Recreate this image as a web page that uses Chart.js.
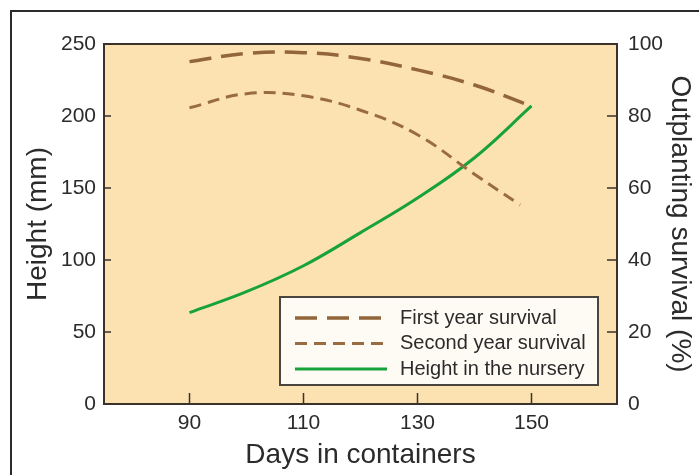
<!DOCTYPE html>
<html>
<head>
<meta charset="utf-8">
<script src="https://cdn.jsdelivr.net/npm/chart.js@4.4.1/dist/chart.umd.min.js"></script>
<style>
  html, body { margin: 0; padding: 0; background: #fff; }
  #wrap { position: relative; width: 699px; height: 475px; overflow: hidden; }
  #frame { position: absolute; left: 10px; top: 10px; width: 800px; height: 600px;
           border-left: 2px solid #2b2b2b; border-top: 2px solid #2b2b2b; }
  canvas { position: absolute; left: 0; top: 0; }
</style>
</head>
<body>
<div id="wrap">
  <div id="frame"></div>
  <canvas id="chart" width="699" height="475"></canvas>
</div>
<script>
// values
const firstDays = [90, 100, 110, 120, 130, 140, 150];
const firstYear = [95.1, 97.4, 97.6, 96.0, 92.8, 88.6, 82.7];      // %
const secondDays = [90, 100, 110, 120, 130, 140, 148];
const secondYear = [82.3, 86.2, 85.6, 81.6, 74.8, 63.8, 55.3];     // %
const heightDays = [90, 100, 110, 120, 130, 140, 150];
const heightMm = [63.5, 78, 96, 119, 143, 171, 207];               // mm

const xTicks = [90, 110, 130, 150];
const heightTicks = [0, 50, 100, 150, 200, 250];
const survivalTicks = [0, 20, 40, 60, 80, 100];

const FONT = "'Liberation Sans', Arial, Helvetica, sans-serif";
const TEXT = '#2b2b2b';

const toPoints = (xs, ys) => xs.map((x, i) => ({ x, y: ys[i] }));

// plot background, frame, inside ticks and the boxed legend
const plotDecor = {
  id: 'plotDecor',
  beforeDraw(chart) {
    const { ctx, chartArea: a } = chart;
    ctx.save();
    ctx.fillStyle = '#fce2b1';
    ctx.fillRect(a.left, a.top, a.right - a.left, a.bottom - a.top);
    ctx.restore();
  },
  afterDatasetsDraw(chart) {
    const { ctx, chartArea: a, scales } = chart;
    ctx.save();
    ctx.strokeStyle = '#3a322b';
    ctx.lineWidth = 2;
    ctx.strokeRect(a.left, a.top, a.right - a.left, a.bottom - a.top);

    ctx.lineWidth = 1.5;
    ctx.beginPath();
    xTicks.forEach(v => {
      const x = scales.x.getPixelForValue(v);
      ctx.moveTo(x, a.bottom);
      ctx.lineTo(x, a.bottom - 11);
    });
    survivalTicks.slice(1, -1).forEach(v => {
      const y = scales.y1.getPixelForValue(v);
      ctx.moveTo(a.right, y);
      ctx.lineTo(a.right - 10, y);
    });
    heightTicks.slice(1, -1).forEach(v => {
      const y = scales.y.getPixelForValue(v);
      ctx.moveTo(a.left, y);
      ctx.lineTo(a.left + 7, y);
    });
    ctx.stroke();

    // legend box
    const w = 318, h = 88;
    const left = a.right - 19 - w;
    const top = a.bottom - 19 - h;
    ctx.fillStyle = '#fefbf4';
    ctx.fillRect(left, top, w, h);
    ctx.strokeStyle = '#4a4540';
    ctx.lineWidth = 2;
    ctx.strokeRect(left, top, w, h);

    const rows = [21, 46.5, 72];
    ctx.font = '20px ' + FONT;
    ctx.textBaseline = 'middle';
    ctx.textAlign = 'left';
    chart.data.datasets.forEach((ds, i) => {
      const y = top + rows[i];
      ctx.strokeStyle = ds.borderColor;
      ctx.lineWidth = ds.borderWidth;
      ctx.setLineDash(ds.borderDash || []);
      ctx.beginPath();
      ctx.moveTo(left + 15, y);
      ctx.lineTo(left + 107, y);
      ctx.stroke();
      ctx.setLineDash([]);
      ctx.fillStyle = TEXT;
      ctx.fillText(ds.label, left + 120, y);
    });
    ctx.restore();
  }
};

new Chart(document.getElementById('chart'), {
  type: 'line',
  data: {
    datasets: [
      {
        label: 'First year survival',
        data: toPoints(firstDays, firstYear),
        yAxisID: 'y1',
        borderColor: '#93653a',
        borderWidth: 3.5,
        borderDash: [22, 10],
        tension: 0.4
      },
      {
        label: 'Second year survival',
        data: toPoints(secondDays, secondYear),
        yAxisID: 'y1',
        borderColor: '#996b40',
        borderWidth: 3,
        borderDash: [12, 7],
        tension: 0.4
      },
      {
        label: 'Height in the nursery',
        data: toPoints(heightDays, heightMm),
        yAxisID: 'y',
        borderColor: '#17a23a',
        borderWidth: 3,
        tension: 0.4
      }
    ]
  },
  options: {
    responsive: false,
    animation: false,
    devicePixelRatio: 1,
    layout: { padding: { top: 44, left: 0, right: 0, bottom: 0 } },
    elements: { point: { radius: 0 } },
    plugins: {
      legend: { display: false },
      tooltip: { enabled: false }
    },
    scales: {
      x: {
        type: 'linear',
        min: 75,
        max: 165,
        afterBuildTicks: s => { s.ticks = xTicks.map(v => ({ value: v })); },
        afterFit: s => { s.height = 71; },
        grid: { display: false, drawTicks: false },
        border: { display: false },
        ticks: { font: { family: FONT, size: 21 }, color: TEXT, padding: 7 },
        title: {
          display: true,
          text: 'Days in containers',
          font: { family: FONT, size: 28 },
          color: TEXT,
          padding: { top: 0, bottom: 3 }
        }
      },
      y: {
        position: 'left',
        min: 0,
        max: 250,
        afterBuildTicks: s => { s.ticks = heightTicks.map(v => ({ value: v })); },
        afterFit: s => { s.width = 104; },
        grid: { display: false, drawTicks: false },
        border: { display: false },
        ticks: { font: { family: FONT, size: 21 }, color: TEXT, padding: 8 },
        title: {
          display: true,
          text: 'Height (mm)',
          font: { family: FONT, size: 28 },
          color: TEXT,
          padding: { top: 21, bottom: 0 }
        }
      },
      y1: {
        position: 'right',
        min: 0,
        max: 100,
        afterBuildTicks: s => { s.ticks = survivalTicks.map(v => ({ value: v })); },
        afterFit: s => { s.width = 82; },
        grid: { display: false, drawTicks: false },
        border: { display: false },
        ticks: { font: { family: FONT, size: 21 }, color: TEXT, padding: 11 },
        title: {
          display: true,
          text: 'Outplanting survival (%)',
          font: { family: FONT, size: 28 },
          color: TEXT,
          padding: { top: 2, bottom: 0 }
        }
      }
    }
  },
  plugins: [plotDecor]
});
</script>
</body>
</html>
